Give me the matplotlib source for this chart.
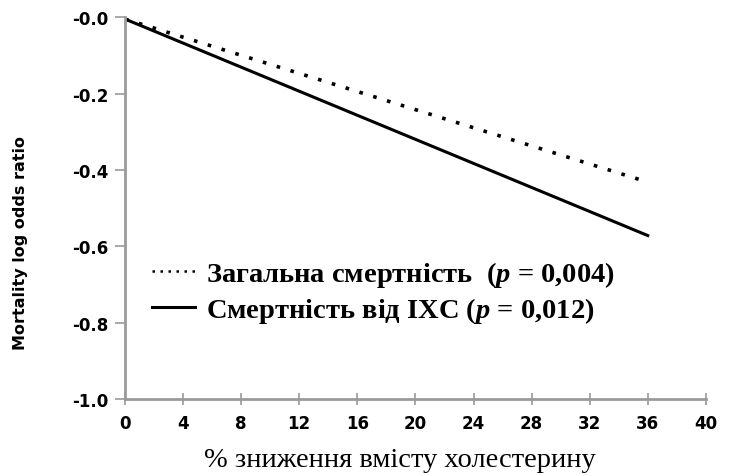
import numpy as np
import matplotlib.pyplot as plt
from matplotlib.lines import Line2D

# data
reduction = [0, 36]
total_mortality = [-0.005, -0.432]
chd_mortality = [-0.005, -0.572]
label_total = 'Загальна смертність  ($\\mathit{p}$ = 0,004)'
label_chd = 'Смертність від ІХС ($\\mathit{p}$ = 0,012)'
xticks = list(range(0, 41, 4))
yticks = [0.0, -0.2, -0.4, -0.6, -0.8, -1.0]
ytick_labels = ['-0.0', '-0.2', '-0.4', '-0.6', '-0.8', '-1.0']

plt.rcParams['mathtext.fontset'] = 'custom'
plt.rcParams['mathtext.it'] = 'Liberation Serif:italic:bold'
plt.rcParams['mathtext.rm'] = 'Liberation Serif:bold'

fig = plt.figure(figsize=(7.33, 4.77), dpi=100)
ax = fig.add_axes([0.1705, 0.1614, 0.7925, 0.8006])

ax.plot(reduction, total_mortality, color='black', lw=2.6,
        linestyle=(0, (1, 3)))
ax.plot(reduction, chd_mortality, color='black', lw=2.2)

ax.set_xlim(0, 40)
ax.set_ylim(-1.0, 0.0)
ax.set_xticks(xticks)
ax.set_yticks(yticks)
ax.set_yticklabels(ytick_labels)

for s in ['top', 'right']:
    ax.spines[s].set_visible(False)
for s in ['left', 'bottom']:
    ax.spines[s].set_color('#9a9a9a')
    ax.spines[s].set_linewidth(2)

ax.tick_params(axis='y', direction='out', length=7, width=1.2, color='#9a9a9a',
               labelsize=12, pad=5)
ax.tick_params(axis='x', direction='inout', length=9, width=1.2, color='#9a9a9a',
               labelsize=12, pad=6)
for lab in ax.get_xticklabels() + ax.get_yticklabels():
    lab.set_fontweight('bold')
    lab.set_fontfamily('DejaVu Sans')

ax.set_ylabel('Mortality log odds ratio', fontsize=11.5, fontweight='bold',
              family='DejaVu Sans')
ax.yaxis.set_label_coords(-0.167, 0.41)
ax.set_xlabel('% зниження вмісту холестерину', fontsize=20.5,
              family='Liberation Serif')
ax.xaxis.set_label_coords(0.474, -0.125)

# legend proxies (legend sample for the dotted line is finer than the plotted line)
h_total = Line2D([], [], color='black', lw=1.8, linestyle=(0, (1, 2.2)))
h_chd = Line2D([], [], color='black', lw=2.2)
leg = ax.legend([h_total, h_chd], [label_total, label_chd],
                loc='upper left', bbox_to_anchor=(0.022, 0.405), frameon=False,
                borderpad=0, handlelength=1.5, handletextpad=0.4, labelspacing=0.22,
                prop={'family': 'Liberation Serif', 'weight': 'bold', 'size': 20.5})

fig.savefig('out.png', dpi=100)
